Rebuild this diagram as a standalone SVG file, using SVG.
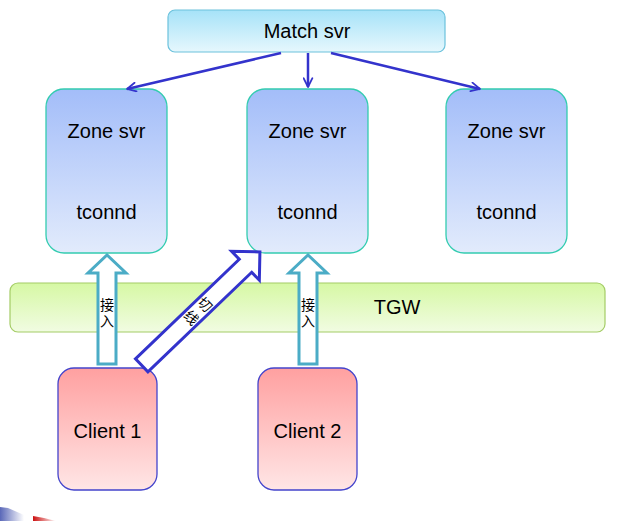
<svg xmlns="http://www.w3.org/2000/svg" width="629" height="521" viewBox="0 0 629 521">
<style>
.lbl{font-family:"Liberation Sans","Noto Sans",sans-serif;font-size:20px;fill:#000;text-anchor:middle}
.cjk{font-family:"Noto Sans CJK SC",sans-serif;font-size:14px;fill:#000;text-anchor:middle;writing-mode:vertical-rl;letter-spacing:2px}
.zone{fill:url(#gZone);stroke:#33ccb0;stroke-width:1.3}
.client{fill:url(#gClient);stroke:#4444cc;stroke-width:1.3}
.up{fill:#fff;stroke:#4bacc6;stroke-width:3}
.conn{stroke:#3333cc;stroke-width:2.5;fill:none;marker-end:url(#arr)}
</style>
<defs>
<linearGradient id="gMatch" x1="0" y1="0" x2="0" y2="1"><stop offset="0" stop-color="#a6e2f8"/><stop offset="1" stop-color="#e6f7fd"/></linearGradient>
<linearGradient id="gZone" x1="0" y1="0" x2="0" y2="1"><stop offset="0" stop-color="#a3bdf9"/><stop offset="1" stop-color="#e2ebfc"/></linearGradient>
<linearGradient id="gTGW" x1="0" y1="0" x2="0" y2="1"><stop offset="0" stop-color="#d6f8a4"/><stop offset="1" stop-color="#f1fce2"/></linearGradient>
<linearGradient id="gClient" x1="0" y1="0" x2="0" y2="1"><stop offset="0" stop-color="#ffa0a0"/><stop offset="1" stop-color="#ffe6e6"/></linearGradient>
<linearGradient id="gDecoB" x1="0" y1="0" x2="1" y2="0"><stop offset="0" stop-color="#5a68b8"/><stop offset="1" stop-color="#ffffff"/></linearGradient>
<linearGradient id="gDecoR" x1="0" y1="0" x2="1" y2="0"><stop offset="0" stop-color="#cc1111"/><stop offset="1" stop-color="#ffffff"/></linearGradient>
<marker id="arr" viewBox="0 0 10 10" refX="9" refY="5" markerWidth="4.4" markerHeight="4.4" orient="auto" markerUnits="strokeWidth">
<path d="M1,1 L9,5 L1,9" fill="none" stroke="#3333cc" stroke-width="1.6" stroke-linecap="round" stroke-linejoin="round"/>
</marker>
</defs>
<rect width="629" height="521" fill="#fff"/>

<g id="tgw">
<rect x="10" y="283" width="595" height="49" rx="8" fill="url(#gTGW)" stroke="#a4cc66" stroke-width="1.2"/>
<text class="lbl" x="397" y="314">TGW</text>
</g>

<g id="match">
<rect x="168" y="10" width="277" height="42" rx="7" fill="url(#gMatch)" stroke="#6cc2dc" stroke-width="1.2"/>
<text class="lbl" x="307" y="38">Match svr</text>
</g>

<g id="zone1">
<rect class="zone" x="46" y="89" width="121" height="164" rx="18"/>
<text class="lbl" x="106.5" y="138">Zone svr</text>
<text class="lbl" x="106.5" y="219">tconnd</text>
</g>
<g id="zone2">
<rect class="zone" x="247" y="89" width="121" height="164" rx="18"/>
<text class="lbl" x="307.5" y="138">Zone svr</text>
<text class="lbl" x="307.5" y="219">tconnd</text>
</g>
<g id="zone3">
<rect class="zone" x="446" y="89" width="121" height="164" rx="18"/>
<text class="lbl" x="506.5" y="138">Zone svr</text>
<text class="lbl" x="506.5" y="219">tconnd</text>
</g>

<g id="client1">
<rect class="client" x="58" y="368" width="99" height="122" rx="16"/>
<text class="lbl" x="107.5" y="438">Client 1</text>
</g>
<g id="client2">
<rect class="client" x="258" y="368" width="99" height="122" rx="16"/>
<text class="lbl" x="307.5" y="438">Client 2</text>
</g>

<g id="connectors">
<line class="conn" x1="281" y1="53" x2="127" y2="89"/>
<line class="conn" x1="308" y1="53" x2="308" y2="87"/>
<line class="conn" x1="331" y1="53" x2="480" y2="89"/>
<g id="access1">
<polygon class="up" points="98,364 98,273 88,273 107,255 126,273 116,273 116,364"/>
<text class="cjk" x="107" y="314">接入</text>
</g>
<g id="access2">
<polygon class="up" points="299,364 299,273 289,273 308,255 327,273 317,273 317,364"/>
<text class="cjk" x="308" y="314">接入</text>
</g>
<g id="switch" transform="translate(141.7,365.3) rotate(46.2)">
<polygon points="-9,0 -9,-143.8 -20,-143.8 0,-163.8 20,-143.8 9,-143.8 9,0" fill="#fff" stroke="#3333cc" stroke-width="3"/>
<text class="cjk" x="0" y="-76" style="letter-spacing:5px">切线</text>
</g>
</g>

<g id="deco">
<polygon points="0,507 8,508 24,515 24,521 0,521" fill="url(#gDecoB)"/>
<polygon points="33,516 44,518 56,521 33,521" fill="url(#gDecoR)"/>
</g>
</svg>
